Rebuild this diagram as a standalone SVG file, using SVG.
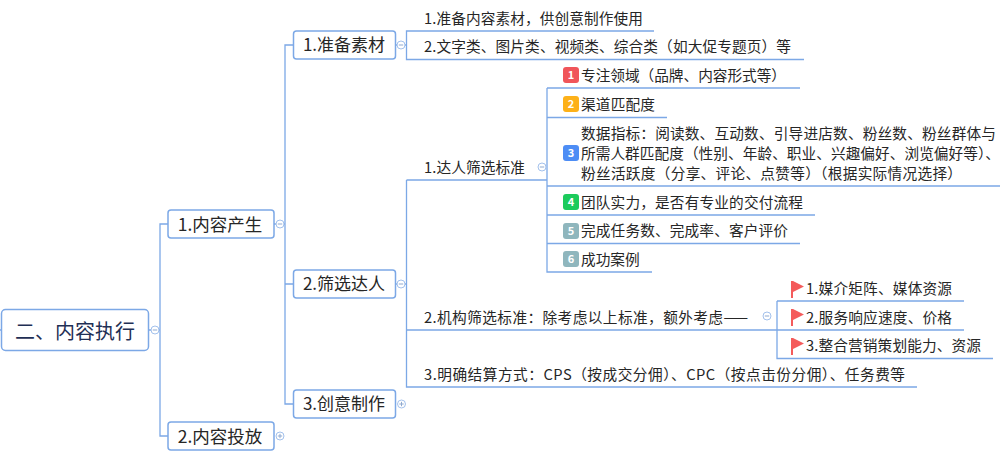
<svg xmlns="http://www.w3.org/2000/svg" width="1000" height="458" viewBox="0 0 1000 458">
<defs>
<style>
text{font-family:"Noto Sans CJK SC","Noto Sans",sans-serif;fill:#262626}
.t{font-size:14.67px}
.n{font-size:17px;text-anchor:middle}
.r{font-size:20px;text-anchor:middle;fill:#1f2f55}
.box{fill:#fff;stroke:#7ca8e6;stroke-width:1.5}
.ln{fill:none;stroke:#7ca8e6;stroke-width:1.3}
.tg{fill:#fff;stroke:#a3c1ec;stroke-width:1}
.tm{fill:none;stroke:#8fa9cf;stroke-width:1}
.bn{font-size:11px;font-weight:700;text-anchor:middle;fill:#fff}
.fl{fill:#f45b5b}
</style>
<g id="minus"><circle class="tg" r="4"/><path class="tm" d="M-2.2 0H2.2"/></g>
<g id="plus"><circle class="tg" r="4"/><path class="tm" d="M-2.2 0H2.2M0-2.2V2.2"/></g>
<path id="flag" class="fl" d="M0 0H2V17H0ZM2 0L13 5.5L2 11Z"/>
</defs>
<rect width="1000" height="458" fill="#fff"/>
<g id="connectors">
<path class="ln" d="M0 330H1M148 330H160M168 224H160V436H168M274 224H285M293 45H285V404H293M285 284H293M395 45H406.5M654 31H406.5V59.5H804M395 284H406.5M406.5 180V387H917M406.5 180H547M406.5 330H777M547 88H800M547 88V272H652M547 117.5H667M547 186H1000M547 215H815M547 243.5H800M777 301H964M777 301V358.5H993M777 330H964"/>
</g>
<g id="root"><rect class="box" x="1.5" y="309.500" width="147" height="41" rx="4"/><text class="r" x="75" y="338.500">二、内容执行</text><use href="#minus" x="155" y="330"/></g>
<g id="n1"><rect class="box" x="168" y="210" width="106" height="28" rx="3"/><text class="n" style="font-size:17.500px" x="220" y="230.500">1.内容产生</text><use href="#minus" x="280" y="224"/></g>
<g id="n2"><rect class="box" x="168" y="422" width="106" height="28" rx="3"/><text class="n" style="font-size:17.500px" x="220" y="442.500">2.内容投放</text><use href="#plus" x="280" y="436"/></g>
<g id="n11"><rect class="box" x="293.500" y="31" width="102" height="28" rx="3"/><text class="n" x="344" y="51">1.准备素材</text><use href="#minus" x="401" y="45"/></g>
<g id="n12"><rect class="box" x="293.500" y="270" width="102" height="28" rx="3"/><text class="n" x="344" y="290">2.筛选达人</text><use href="#minus" x="401" y="284"/></g>
<g id="n13"><rect class="box" x="293.500" y="390" width="102" height="28" rx="3"/><text class="n" x="344" y="410">3.创意制作</text><use href="#plus" x="401.500" y="404"/></g>
<g id="l1"><text class="t" x="424" y="23.500" textLength="219">1.准备内容素材，供创意制作使用</text></g>
<g id="l2"><text class="t" x="424" y="51.500" textLength="367">2.文字类、图片类、视频类、综合类（如大促专题页）等</text></g>
<g id="l3"><text class="t" x="424" y="172.500" textLength="101">1.达人筛选标准</text><use href="#minus" x="542" y="167"/></g>
<g id="l4"><text class="t" x="424" y="322.500" textLength="324">2.机构筛选标准：除考虑以上标准，额外考虑——</text><use href="#minus" x="767" y="316"/></g>
<g id="l5"><text class="t" x="424" y="379.500" textLength="481">3.明确结算方式：CPS（按成交分佣）、CPC（按点击份分佣）、任务费等</text></g>
<g id="b1"><rect x="563" y="67" width="16" height="16" rx="3" fill="#f0555a"/><text class="bn" x="571" y="79">1</text><text class="t" x="581" y="80.500" textLength="205">专注领域（品牌、内容形式等）</text></g>
<g id="b2"><rect x="563" y="96" width="16" height="16" rx="3" fill="#fdb119"/><text class="bn" x="571" y="108">2</text><text class="t" x="581" y="109.500" textLength="74">渠道匹配度</text></g>
<g id="b3"><rect x="563" y="145" width="16" height="16" rx="3" fill="#4d8df5"/><text class="bn" x="571" y="157">3</text><text class="t" x="581" y="138.500" textLength="415">数据指标：阅读数、互动数、引导进店数、粉丝数、粉丝群体与</text><text class="t" x="581" y="158.500" textLength="419">所需人群匹配度（性别、年龄、职业、兴趣偏好、浏览偏好等）、</text><text class="t" x="581" y="178.500" textLength="381">粉丝活跃度（分享、评论、点赞等）（根据实际情况选择）</text></g>
<g id="b4"><rect x="563" y="194" width="16" height="16" rx="3" fill="#1ccb5c"/><text class="bn" x="571" y="206">4</text><text class="t" x="581" y="207.500" textLength="222">团队实力，是否有专业的交付流程</text></g>
<g id="b5"><rect x="563" y="223" width="16" height="16" rx="3" fill="#8fb6bd"/><text class="bn" x="571" y="235">5</text><text class="t" x="581" y="236" textLength="207">完成任务数、完成率、客户评价</text></g>
<g id="b6"><rect x="563" y="251" width="16" height="16" rx="3" fill="#8fb6bd"/><text class="bn" x="571" y="263">6</text><text class="t" x="581" y="264.500">成功案例</text></g>
<g id="f1"><use href="#flag" x="791" y="281"/><text class="t" x="806" y="293.500" textLength="146">1.媒介矩阵、媒体资源</text></g>
<g id="f2"><use href="#flag" x="791" y="309"/><text class="t" x="806" y="322.500" textLength="146">2.服务响应速度、价格</text></g>
<g id="f3"><use href="#flag" x="791" y="338"/><text class="t" x="806" y="350.500" textLength="175">3.整合营销策划能力、资源</text></g>
</svg>
